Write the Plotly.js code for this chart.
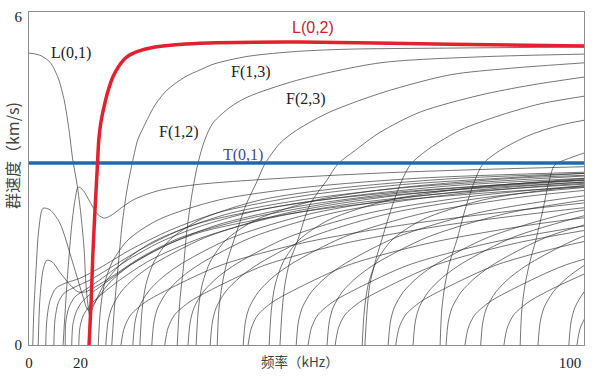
<!DOCTYPE html>
<html><head><meta charset="utf-8">
<script src="https://cdn.plot.ly/plotly-3.0.1.min.js"></script>
<style>html,body{margin:0;padding:0;background:#fff}#chart{width:600px;height:383px}</style>
</head><body><div id="chart"></div>
<script>
// axis ticks
const xTickVals = [0, 9.5, 100];
const xTickText = ['0', '20', '100'];
const yTickVals = [0, 6];
const yTickText = ['0', '6'];

// labelled modes (frequency kHz, group velocity km/s)
const L02Freq = [11.1, 11.5, 11.8, 12.2, 12.6, 12.9, 13.3, 13.9, 14.6, 15.5, 16.6, 18.1, 20.1, 23.3, 31.6, 50.1, 77.8, 102.6];
const L02Vel  = [0, 0.82, 1.65, 2.47, 3.20, 3.75, 4.08, 4.37, 4.64, 4.90, 5.10, 5.27, 5.37, 5.45, 5.52, 5.54, 5.50, 5.47];
const T01Freq = [0, 102.6];
const T01Vel  = [3.33, 3.33];
const L01Freq = [0, 2.0, 3.9, 5.4, 6.5, 7.4, 8.1, 8.9, 9.6, 10.2, 10.5, 10.9, 11.2, 11.6, 12.6, 14.0, 16.8, 22.4, 31.6, 50.1, 68.6, 87.1, 102.6];
const L01Vel  = [5.34, 5.30, 5.17, 4.88, 4.48, 3.93, 3.38, 2.93, 2.38, 1.74, 1.15, 0.73, 0.55, 0.64, 0.86, 1.13, 1.46, 1.86, 2.23, 2.60, 2.80, 2.93, 3.02];

// low-frequency flexural / tangled modes
const lowFreqs = [
  [6.3, 6.7, 7.2, 7.9, 8.5, 9.1, 10.0, 11.3, 12.8, 14.0, 15.5, 17.2, 19.6, 24.2, 31.6, 50.1, 68.6, 87.1, 102.6],
  [0.7, 0.9, 1.3, 1.8, 2.6, 3.9, 5.7, 8.1, 10.0, 10.9, 11.8, 13.1, 15.0, 18.7, 24.2, 31.6, 50.1, 68.6, 87.1, 102.6],
  [1.7, 2.0, 2.6, 3.3, 4.3, 5.7, 7.6, 9.1, 10.4, 12.2, 15.0, 20.5, 27.9, 40.9, 59.3, 77.8, 102.6],
  [3.1, 3.3, 3.9, 5.0, 6.7, 9.4, 13.1, 18.7, 26.1, 35.3, 50.1, 68.6, 87.1, 102.6],
  [4.6, 4.8, 5.4, 6.5, 8.5, 11.3, 15.0, 20.5, 27.9, 37.2, 50.1, 68.6, 87.1, 102.6],
  [6.7, 6.8, 7.4, 8.5, 10.4, 13.1, 17.7, 24.2, 31.6, 42.7, 59.3, 77.8, 102.6],
  [7.9, 8.1, 8.7, 9.8, 11.6, 14.6, 18.7, 26.1, 35.3, 50.1, 68.6, 87.1, 102.6],
  [9.2, 9.4, 10.0, 11.3, 13.1, 16.8, 22.4, 31.6, 44.5, 59.3, 77.8, 102.6]
];
const lowVels = [
  [0, 0.64, 1.37, 2.19, 2.65, 2.89, 2.83, 2.61, 2.38, 2.32, 2.39, 2.52, 2.67, 2.83, 2.94, 3.07, 3.16, 3.22, 3.26],
  [0, 0.64, 1.37, 2.10, 2.50, 2.47, 2.23, 1.50, 0.88, 0.64, 0.73, 0.91, 1.15, 1.46, 1.77, 2.06, 2.43, 2.65, 2.80, 2.89],
  [0, 0.82, 1.37, 1.55, 1.52, 1.33, 1.10, 0.97, 0.97, 1.06, 1.23, 1.59, 1.96, 2.32, 2.65, 2.83, 2.98],
  [0, 0.46, 0.82, 1.04, 1.13, 1.22, 1.41, 1.74, 2.10, 2.43, 2.72, 2.93, 3.05, 3.14],
  [0, 0.46, 0.77, 0.95, 1.06, 1.19, 1.41, 1.74, 2.10, 2.41, 2.65, 2.87, 3.00, 3.09],
  [0, 0.42, 0.69, 0.88, 1.01, 1.19, 1.52, 1.88, 2.17, 2.47, 2.72, 2.91, 3.05],
  [0, 0.37, 0.60, 0.79, 0.95, 1.17, 1.46, 1.86, 2.21, 2.54, 2.78, 2.93, 3.02],
  [0, 0.31, 0.53, 0.73, 0.90, 1.19, 1.55, 1.95, 2.32, 2.58, 2.78, 2.94]
];

// high-velocity modes rising towards ~5.5 km/s
const upperFreqs = [
  [15.3, 15.9, 16.5, 17.2, 18.1, 19.2, 20.1, 21.1, 23.3, 25.5, 28.8, 31.6, 34.2, 40.5, 49.7, 59.1, 77.8, 102.6],
  [27.4, 27.9, 28.5, 29.2, 30.1, 31.2, 32.5, 34.0, 37.2, 40.3, 49.5, 64.9, 83.4, 102.6],
  [34.8, 35.1, 35.7, 36.6, 37.9, 40.1, 42.1, 43.6, 46.4, 49.5, 55.6, 65.8, 77.8, 88.9, 102.6],
  [46.4, 46.8, 47.3, 48.2, 49.7, 51.9, 55.1, 57.1, 60.3, 64.9, 72.3, 83.4, 92.6, 102.6],
  [62.1, 62.5, 63.0, 64.0, 65.2, 66.9, 68.8, 70.6, 74.1, 79.7, 87.1, 94.5, 102.6],
  [76.0, 76.3, 76.9, 77.8, 79.1, 80.6, 82.3, 83.9, 87.1, 92.6, 98.2, 102.6],
  [90.8, 91.1, 91.7, 92.6, 93.7, 95.0, 96.1, 97.2, 100.0, 102.6]
];
const upperVels = [
  [0, 0.82, 1.46, 2.19, 2.83, 3.38, 3.75, 3.97, 4.39, 4.66, 4.90, 5.03, 5.14, 5.28, 5.37, 5.41, 5.43, 5.45],
  [0, 0.82, 1.37, 2.10, 2.74, 3.31, 3.75, 4.06, 4.35, 4.53, 4.84, 5.16, 5.27, 5.32],
  [0, 0.64, 1.10, 1.52, 1.92, 2.56, 2.98, 3.31, 3.69, 3.93, 4.26, 4.63, 4.94, 5.06, 5.16],
  [0, 0.64, 1.10, 1.52, 1.92, 2.56, 3.02, 3.31, 3.56, 3.89, 4.26, 4.57, 4.75, 4.90],
  [0, 0.64, 1.10, 1.52, 1.92, 2.47, 2.98, 3.31, 3.60, 3.93, 4.20, 4.41, 4.55],
  [0, 0.64, 1.10, 1.52, 1.92, 2.47, 2.98, 3.31, 3.56, 3.84, 4.02, 4.11],
  [0, 0.64, 1.10, 1.52, 1.92, 2.47, 2.98, 3.29, 3.42, 3.51]
];

// higher-order modes converging to the ~3 km/s band
const lowerFreqs = [
  [12.8, 13.2, 13.9, 15.4, 18.3, 23.9, 35.0, 49.8, 71.9, 102.8],
  [14.2, 14.6, 15.3, 17.0, 19.7, 23.4, 32.7, 47.5, 66.0, 84.4, 104.2],
  [17.0, 17.6, 18.8, 21.6, 26.2, 35.5, 50.3, 68.8, 90.9, 107.6],
  [19.2, 19.6, 20.3, 22.0, 24.7, 28.4, 37.7, 52.5, 71.0, 89.4, 109.2],
  [20.5, 20.9, 21.6, 23.1, 26.0, 31.6, 42.7, 57.5, 79.6, 110.5],
  [22.7, 23.1, 23.8, 25.5, 28.2, 31.9, 41.2, 56.0, 74.5, 92.9, 112.7],
  [25.1, 25.7, 26.9, 29.7, 34.3, 43.6, 58.4, 76.9, 99.0, 115.7],
  [29.4, 29.8, 30.5, 32.2, 34.9, 38.6, 47.9, 62.7, 81.2, 99.6, 119.4],
  [30.9, 31.3, 32.0, 33.5, 36.4, 42.0, 53.1, 67.9, 90.0, 120.9],
  [33.5, 33.9, 34.6, 36.3, 39.0, 42.7, 52.0, 66.8, 85.3, 103.7],
  [39.6, 40.0, 40.7, 42.4, 45.1, 48.8, 58.1, 72.9, 91.4, 109.8],
  [40.5, 41.1, 42.3, 45.1, 49.7, 59.0, 73.8, 92.3, 114.4],
  [44.4, 44.8, 45.5, 47.0, 49.9, 55.5, 66.6, 81.4, 103.5],
  [49.4, 49.8, 50.5, 52.2, 54.9, 58.6, 67.9, 82.7, 101.2, 119.6],
  [51.6, 52.2, 53.4, 56.2, 60.8, 70.1, 84.9, 103.4],
  [55.1, 55.5, 56.2, 57.9, 60.6, 64.3, 73.6, 88.4, 106.9],
  [56.6, 57.2, 58.4, 61.2, 65.8, 75.1, 89.9, 108.4],
  [61.6, 62.0, 62.7, 64.2, 67.1, 72.7, 83.8, 98.6, 120.7],
  [66.4, 66.8, 67.5, 69.2, 71.9, 75.6, 84.9, 99.7, 118.2],
  [67.8, 68.4, 69.6, 72.4, 77.0, 86.3, 101.1, 119.6],
  [71.0, 71.4, 72.1, 73.8, 76.5, 80.2, 89.5, 104.3],
  [77.1, 77.5, 78.2, 79.9, 82.6, 86.3, 95.6, 110.4],
  [80.6, 81.2, 82.4, 85.2, 89.8, 99.1, 113.9],
  [83.5, 83.9, 84.6, 86.3, 89.0, 92.7, 102.0, 116.8],
  [87.8, 88.4, 89.6, 92.4, 97.0, 106.3],
  [94.1, 94.5, 95.2, 96.9, 99.6, 103.3],
  [99.8, 100.2, 100.9, 102.6, 105.3],
  [101.3, 101.9, 103.1]
];
const lowerVels = [
  [0, 0.64, 1.10, 1.52, 1.92, 2.29, 2.65, 2.87, 3.05, 3.16],
  [0, 0.42, 0.68, 0.97, 1.24, 1.50, 1.97, 2.41, 2.71, 2.89, 3.02],
  [0, 0.31, 0.55, 0.79, 1.04, 1.46, 1.86, 2.19, 2.47, 2.65],
  [0, 0.42, 0.68, 0.97, 1.24, 1.50, 1.97, 2.41, 2.71, 2.89, 3.02],
  [0, 0.64, 1.10, 1.52, 1.92, 2.29, 2.65, 2.87, 3.05, 3.16],
  [0, 0.42, 0.68, 0.97, 1.24, 1.50, 1.97, 2.41, 2.71, 2.89, 3.02],
  [0, 0.31, 0.55, 0.79, 1.04, 1.46, 1.86, 2.19, 2.47, 2.65],
  [0, 0.42, 0.68, 0.97, 1.24, 1.50, 1.97, 2.41, 2.71, 2.89, 3.02],
  [0, 0.64, 1.10, 1.52, 1.92, 2.29, 2.65, 2.87, 3.05, 3.16],
  [0, 0.42, 0.68, 0.97, 1.24, 1.50, 1.97, 2.41, 2.71, 2.89],
  [0, 0.42, 0.68, 0.97, 1.24, 1.50, 1.97, 2.41, 2.71, 2.89],
  [0, 0.31, 0.55, 0.79, 1.04, 1.46, 1.86, 2.19, 2.47],
  [0, 0.64, 1.10, 1.52, 1.92, 2.29, 2.65, 2.87, 3.05],
  [0, 0.42, 0.68, 0.97, 1.24, 1.50, 1.97, 2.41, 2.71, 2.89],
  [0, 0.31, 0.55, 0.79, 1.04, 1.46, 1.86, 2.19],
  [0, 0.42, 0.68, 0.97, 1.24, 1.50, 1.97, 2.41, 2.71],
  [0, 0.31, 0.55, 0.79, 1.04, 1.46, 1.86, 2.19],
  [0, 0.64, 1.10, 1.52, 1.92, 2.29, 2.65, 2.87, 3.05],
  [0, 0.42, 0.68, 0.97, 1.24, 1.50, 1.97, 2.41, 2.71],
  [0, 0.31, 0.55, 0.79, 1.04, 1.46, 1.86, 2.19],
  [0, 0.42, 0.68, 0.97, 1.24, 1.50, 1.97, 2.41],
  [0, 0.42, 0.68, 0.97, 1.24, 1.50, 1.97, 2.41],
  [0, 0.31, 0.55, 0.79, 1.04, 1.46, 1.86],
  [0, 0.42, 0.68, 0.97, 1.24, 1.50, 1.97, 2.41],
  [0, 0.31, 0.55, 0.79, 1.04, 1.46],
  [0, 0.42, 0.68, 0.97, 1.24, 1.50],
  [0, 0.42, 0.68, 0.97, 1.24],
  [0, 0.31, 0.55]
];

// mode labels
const labelText = ['L(0,1)', 'F(1,3)', 'F(2,3)', 'F(1,2)', 'T(0,1)', 'L(0,2)'];
const labelFreq = [7.8, 41.0, 51.2, 27.7, 39.6, 52.5];
const labelVel  = [5.34, 4.99, 4.50, 3.89, 3.47, 5.81];

const thin = {color: 'rgba(45,45,45,0.78)', width: 0.85, shape: 'spline', smoothing: 0.8};
const traces = [];
function addFamily(fs, vs) {
  fs.forEach((f, i) => traces.push({x: f, y: vs[i], type: 'scatter', mode: 'lines', line: thin, hoverinfo: 'skip', showlegend: false}));
}
addFamily(lowerFreqs, lowerVels);
addFamily(lowFreqs, lowVels);
addFamily(upperFreqs, upperVels);
traces.push({x: L01Freq, y: L01Vel, type: 'scatter', mode: 'lines', line: thin, showlegend: false});
traces.push({x: T01Freq, y: T01Vel, type: 'scatter', mode: 'lines', line: {color: '#1b6ab5', width: 3.5}, showlegend: false});
traces.push({x: L02Freq, y: L02Vel, type: 'scatter', mode: 'lines', line: {color: '#e3202e', width: 3.5, shape: 'spline', smoothing: 0.6}, showlegend: false});

const labelColors = ['#222', '#222', '#222', '#222', '#3b4b9c', '#c3252f'];
const labelFonts = ['Liberation Serif', 'Liberation Serif', 'Liberation Serif', 'Liberation Serif', 'Liberation Serif', 'Liberation Sans'];
const annotations = labelText.map((t, i) => ({
  x: labelFreq[i], y: labelVel[i], xref: 'x', yref: 'y', text: t, showarrow: false,
  font: {family: labelFonts[i], size: 16, color: labelColors[i]}
}));
annotations.push({x: 0.488, y: -0.048, xref: 'paper', yref: 'paper', text: '频率（kHz）', showarrow: false,
  yanchor: 'middle', font: {family: 'Noto Sans CJK SC', size: 13.5, color: '#444'}});
annotations.push({x: -0.031, y: 0.57, xref: 'paper', yref: 'paper', text: '群速度（km/s)', showarrow: false,
  textangle: -90, xanchor: 'center', yanchor: 'middle', font: {family: 'Noto Sans CJK SC', size: 16, color: '#444'}});

const axisBase = {showline: true, mirror: true, linecolor: '#8c8c8c', linewidth: 1, showgrid: false, zeroline: false,
  ticks: '', tickfont: {family: 'Liberation Serif', size: 15, color: '#222'}, tickmode: 'array', fixedrange: true};

const layout = {
  width: 600, height: 383,
  margin: {l: 29, r: 16, t: 12, b: 38},
  paper_bgcolor: '#fff', plot_bgcolor: '#fff',
  showlegend: false,
  xaxis: Object.assign({}, axisBase, {range: [0, 102.6], tickvals: xTickVals, ticktext: xTickText, ticklabelstandoff: 4}),
  yaxis: Object.assign({}, axisBase, {range: [0, 6.09], tickvals: yTickVals, ticktext: yTickText, ticklabelstandoff: 3}),
  annotations: annotations
};
Plotly.newPlot('chart', traces, layout, {staticPlot: true, displayModeBar: false});
</script></body></html>
